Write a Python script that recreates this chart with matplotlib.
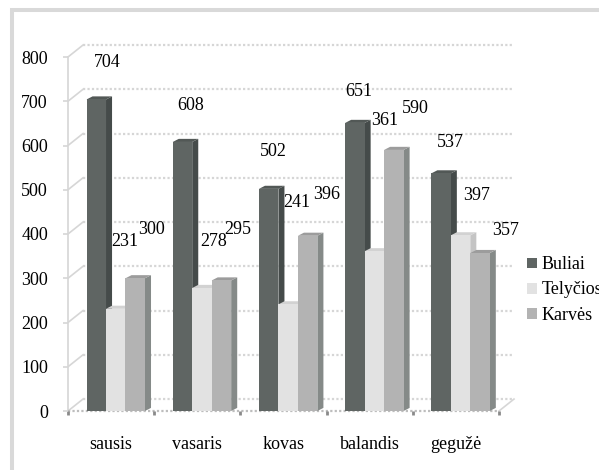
"""Galvijų skaičius pagal mėnesius"""

import matplotlib
matplotlib.use("Agg")
import matplotlib.pyplot as plt
from matplotlib.patches import Polygon, Rectangle, Patch

plt.rcParams['font.family'] = ['Liberation Serif', 'DejaVu Serif']

months = ["sausis", "vasaris", "kovas", "balandis", "gegužė"]
series_names = ["Buliai", "Telyčios", "Karvės"]
buliai = [704, 608, 502, 651, 537]
telycios = [231, 278, 241, 361, 397]
karves = [300, 295, 396, 590, 357]
y_ticks = [0, 100, 200, 300, 400, 500, 600, 700, 800]

# label offsets in pixels from the top centre of each bar (excel's 3d placement)
label_dx = [[11, 8, 5, 4, 9], [9, 12, 9, 10, 16], [16, 16, 19, 21, 26]]
label_dy = [[37, 36, 37, 31, 31], [67, 46, 102, 131, 40], [49, 51, 41, 41, 23]]

front = ["#5f6563", "#e2e2e2", "#b3b3b3"]
side = ["#454b4a", "#c4c4c4", "#858a88"]
top = ["#525856", "#d2d2d2", "#9c9c9c"]

W, H = 599, 470
fig = plt.figure(figsize=(W / 100, H / 100), dpi=100)
ax = fig.add_axes([68 / W, (H - 411) / H, (499 - 68) / W, (411 - 57) / H])
ax.set_xlim(0, 5)
ax.set_ylim(0, 800)
for s in ax.spines.values():
    s.set_visible(False)

# 3d wall offsets (data units)
bx, by = 0.174, 27
dx, dy = 0.07, 7
grid_c = "#d6d6d6"

for v in y_ticks:
    ax.plot([bx, 5 + bx], [v + by, v + by], color=grid_c, lw=1.6,
            ls=(0, (1, 1)), zorder=1, clip_on=False)
    ax.plot([0, bx], [v, v + by], color=grid_c, lw=1.2, zorder=1, clip_on=False)
ax.plot([0, 0], [0, 800], color=grid_c, lw=1.2, zorder=1, clip_on=False)
ax.plot([5, 5 + bx], [0, by], color=grid_c, lw=1.2, zorder=1, clip_on=False)
ax.plot([0, 5], [0, 0], color="#bdbdbd", lw=1.6, ls=(0, (1, 1)),
        zorder=1, clip_on=False)

bw = 0.226
start = 0.215
z = 3
for j, vals in enumerate([buliai, telycios, karves]):
    for i, v in enumerate(vals):
        x = i + start + j * bw
        ax.add_patch(Polygon([(x + bw, 0), (x + bw + dx, dy), (x + bw + dx, v + dy),
                              (x + bw, v)], closed=True, fc=side[j], ec="none",
                             zorder=z + i * 10 + j * 3))
        ax.add_patch(Polygon([(x, v), (x + dx, v + dy), (x + bw + dx, v + dy),
                              (x + bw, v)], closed=True, fc=top[j], ec="none",
                             zorder=z + i * 10 + j * 3))
        ax.add_patch(Rectangle((x, 0), bw, v, fc=front[j], ec="none",
                               zorder=z + 1 + i * 10 + j * 3))
        ax.annotate(str(v), (x + bw / 2, v),
                    xytext=(label_dx[j][i], label_dy[j][i]),
                    textcoords="offset pixels", ha="center", va="center",
                    fontsize=13, zorder=100)

ax.set_yticks(y_ticks)
ax.set_yticklabels([str(t) for t in y_ticks])
ax.tick_params(axis="y", length=3.6, width=1.2, color=grid_c, pad=10.8,
               labelsize=13)
ax.set_xticks(range(6))
ax.set_xticklabels([])
ax.tick_params(axis="x", which="major", length=3, width=2, color="#8a8a8a",
               direction="out")
ax.set_xticks([i + 0.5 for i in range(5)], minor=True)
ax.set_xticklabels(months, minor=True)
ax.tick_params(axis="x", which="minor", length=0, pad=18, labelsize=13)

handles = [Patch(fc=c, ec="none") for c in front]
fig.legend(handles, series_names, loc="center left",
           bbox_to_anchor=(527 / W, (H - 290) / H), frameon=False,
           fontsize=13, handlelength=0.55, handleheight=0.55,
           handletextpad=0.25, labelspacing=0.45, borderpad=0,
           borderaxespad=0)

fig.patches.append(Rectangle((11.5 / W, -0.1), 1.2, (H - 10) / H + 0.1,
                             transform=fig.transFigure, fill=False,
                             ec="#d9d9d9", lw=2.9))

fig.savefig("out.png", dpi=100)
